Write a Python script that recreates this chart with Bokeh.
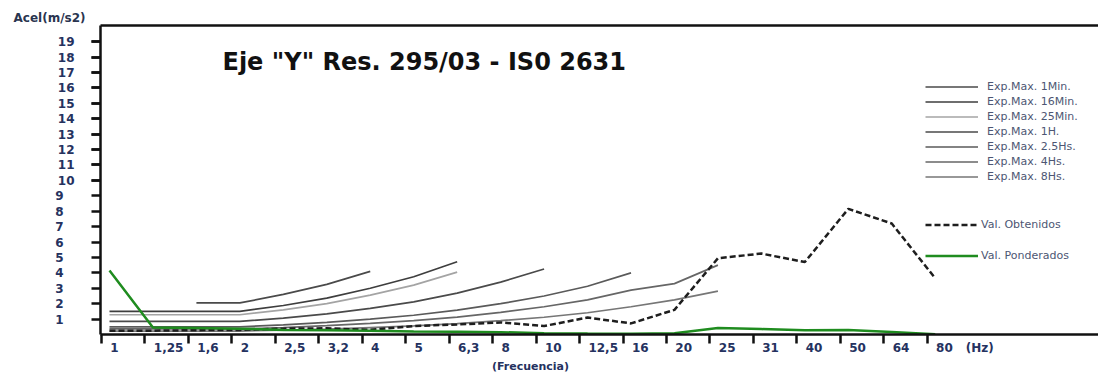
from bokeh.plotting import figure
from bokeh.models import Range1d, FixedTicker, LinearAxis, Legend, LegendItem, Label
from bokeh.embed import file_html
from bokeh.resources import INLINE

nan = float("nan")

# ---- data ----
freq_labels = ["1", "1,25", "1,6", "2", "2,5", "3,2", "4", "5", "6,3", "8",
               "10", "12,5", "16", "20", "25", "31", "40", "50", "64", "80"]
y_tick_values = list(range(1, 20))

exp_1min = [nan, nan, 2.05, 2.05, 2.6, 3.25, 4.1]
exp_16min = [1.5, 1.5, 1.5, 1.5, 1.88, 2.36, 3.0, 3.75, 4.72]
exp_25min = [1.28, 1.28, 1.28, 1.28, 1.6, 2.0, 2.55, 3.2, 4.05]
exp_1h = [0.85, 0.85, 0.85, 0.85, 1.06, 1.34, 1.7, 2.12, 2.68, 3.4, 4.25]
exp_2_5h = [0.5, 0.5, 0.5, 0.5, 0.63, 0.79, 1.0, 1.25, 1.58, 2.0, 2.5, 3.13, 4.0]
exp_4h = [0.36, 0.36, 0.36, 0.36, 0.45, 0.57, 0.72, 0.9, 1.13, 1.44, 1.8, 2.25,
          2.88, 3.3, 4.5]
exp_8h = [0.225, 0.225, 0.225, 0.225, 0.28, 0.35, 0.45, 0.56, 0.71, 0.9, 1.12,
          1.41, 1.8, 2.25, 2.81]

val_obtenidos = [0.25, 0.25, 0.28, 0.3, 0.38, 0.4, 0.3, 0.55, 0.65, 0.78, 0.55,
                 1.1, 0.72, 1.6, 4.95, 5.25, 4.7, 8.15, 7.2, 3.65]
val_ponderados = [4.15, 0.45, 0.42, 0.38, 0.3, 0.28, 0.25, 0.2, 0.18, 0.15, 0.08,
                  0.06, 0.05, 0.08, 0.42, 0.35, 0.27, 0.3, 0.17, 0.02]

exp_series = [
    ("Exp.Max. 1Min.", exp_1min, "#4a4a4a"),
    ("Exp.Max. 16Min.", exp_16min, "#3e3e3e"),
    ("Exp.Max. 25Min.", exp_25min, "#a4a4a4"),
    ("Exp.Max. 1H.", exp_1h, "#4a4a4a"),
    ("Exp.Max. 2.5Hs.", exp_2_5h, "#5a5a5a"),
    ("Exp.Max. 4Hs.", exp_4h, "#666666"),
    ("Exp.Max. 8Hs.", exp_8h, "#767676"),
]

idx = list(range(len(freq_labels)))

# ---- layout helpers (pixel geometry only) ----
X0, X1 = -0.207, 22.757
PX_PER_UNIT = 998.0 / (X1 - X0)
CHAR_W = {",": 0.380, "(": 0.457, ")": 0.457, "H": 0.837, "z": 0.593}


def text_w(s, size=12):
    return sum(CHAR_W.get(c, 0.696) for c in s) * size


def center_of(left, s):
    return left + text_w(s) / 2.0 / PX_PER_UNIT


TXT = "#25325f"
AX = "#111111"
FONT = "DejaVu Sans"

# ---- figure ----
p = figure(width=1098, height=375, output_backend="svg", toolbar_location=None,
           x_range=Range1d(X0, X1), y_range=Range1d(0, 20.05),
           min_border_left=100, min_border_right=0, min_border_top=25,
           min_border_bottom=41, title="Acel(m/s2)")
p.grid.visible = False
p.outline_line_color = None
p.title.align = "left"
p.title.offset = -87
p.title.standoff = 1
p.title.text_font = FONT
p.title.text_font_style = "bold"
p.title.text_font_size = "12px"
p.title.text_color = "#2a3550"

# bottom axis: minor ticks are the tick marks, major ticks carry the labels
tick_pos = [i - 0.184 for i in idx]
label_pos = [center_of(i + 0.02, s) for i, s in zip(idx, freq_labels)]
hz_pos = center_of(19.70, "(Hz)")
xa = p.xaxis[0]
xa.ticker = FixedTicker(ticks=label_pos + [hz_pos], minor_ticks=tick_pos)
overrides = {pos: s for pos, s in zip(label_pos, freq_labels)}
overrides[hz_pos] = "(Hz)"
xa.major_label_overrides = overrides
xa.major_tick_line_color = None
xa.major_tick_out = 0
xa.major_tick_in = 0
xa.minor_tick_out = 9
xa.minor_tick_in = 0
xa.minor_tick_line_width = 2.5
xa.minor_tick_line_color = AX
xa.axis_line_width = 2.5
xa.axis_line_color = AX
xa.major_label_standoff = -3
xa.major_label_text_font = FONT
xa.major_label_text_font_style = "bold"
xa.major_label_text_font_size = "12px"
xa.major_label_text_color = TXT

freq_axis = LinearAxis(ticker=FixedTicker(ticks=[9.687]),
                       major_label_overrides={9.687: "(Frecuencia)"},
                       axis_line_color=None, major_tick_line_color=None,
                       minor_tick_line_color=None, major_tick_out=0,
                       major_tick_in=0, minor_tick_out=0, minor_tick_in=0,
                       major_label_standoff=2,
                       major_label_text_font=FONT,
                       major_label_text_font_style="bold",
                       major_label_text_font_size="11px",
                       major_label_text_color=TXT)
p.add_layout(freq_axis, "below")

# left axis: all tick marks + two-digit labels
ya = p.yaxis[0]
ya.ticker = FixedTicker(ticks=[v for v in y_tick_values if v >= 10],
                        minor_ticks=y_tick_values)
ya.major_tick_out = 9
ya.major_tick_in = 0
ya.major_tick_line_width = 2.5
ya.major_tick_line_color = AX
ya.minor_tick_out = 9
ya.minor_tick_in = 0
ya.minor_tick_line_width = 2.5
ya.minor_tick_line_color = AX
ya.axis_line_width = 2.5
ya.axis_line_color = AX
ya.major_label_standoff = 17
ya.major_label_text_font = FONT
ya.major_label_text_font_style = "bold"
ya.major_label_text_font_size = "12px"
ya.major_label_text_color = TXT

# outer left axis: one-digit labels, left aligned with the two-digit ones
ya2 = LinearAxis(ticker=FixedTicker(ticks=[v for v in y_tick_values if v < 10]),
                 axis_line_color=None, major_tick_line_color=None,
                 minor_tick_line_color=None, major_tick_out=0, major_tick_in=0,
                 minor_tick_out=0, minor_tick_in=0,
                 major_label_standoff=-9, major_label_text_font=FONT,
                 major_label_text_font_style="bold",
                 major_label_text_font_size="12px", major_label_text_color=TXT)
p.add_layout(ya2, "left")

top = LinearAxis(ticker=FixedTicker(ticks=[]), major_tick_line_color=None,
                 minor_tick_line_color=None, major_tick_out=0, major_tick_in=0,
                 minor_tick_out=0, minor_tick_in=0, axis_line_width=2.5,
                 axis_line_color=AX)
p.add_layout(top, "above")

# ---- lines ----
exp_renderers = []
for name, vals, col in exp_series:
    r = p.line(idx[:len(vals)], vals, line_color=col, line_width=1.7)
    exp_renderers.append((name, r))

r_obt = p.line(idx, val_obtenidos, line_color="#1e1e1e", line_width=2.5,
               line_dash="6 3")
r_pond = p.line(idx, val_ponderados, line_color="#1f8c1f", line_width=2.5)

# ---- legends ----
leg_common = dict(glyph_width=53, glyph_height=15, label_height=15, spacing=0,
                  padding=0, margin=0, border_line_color=None,
                  background_fill_alpha=0, label_text_font_size="11px",
                  label_text_font=FONT, label_text_color="#4d5673")
leg1 = Legend(items=[LegendItem(label=n, renderers=[r]) for n, r in exp_renderers],
              location=(825, 150), label_standoff=9, **leg_common)
leg2 = Legend(items=[LegendItem(label="Val. Obtenidos", renderers=[r_obt])],
              location=(825, 102), label_standoff=3, **leg_common)
leg3 = Legend(items=[LegendItem(label="Val. Ponderados", renderers=[r_pond])],
              location=(825, 71), label_standoff=3, **leg_common)
for lg in (leg1, leg2, leg3):
    p.add_layout(lg)

p.add_layout(Label(x=2.6, y=17.65, text='Eje "Y" Res. 295/03 - IS0 2631',
                   text_align="left", text_baseline="middle",
                   text_font=FONT, text_font_style="bold",
                   text_font_size="24px", text_color="#111111"))

open("out.html", "w").write(file_html(p, INLINE))
